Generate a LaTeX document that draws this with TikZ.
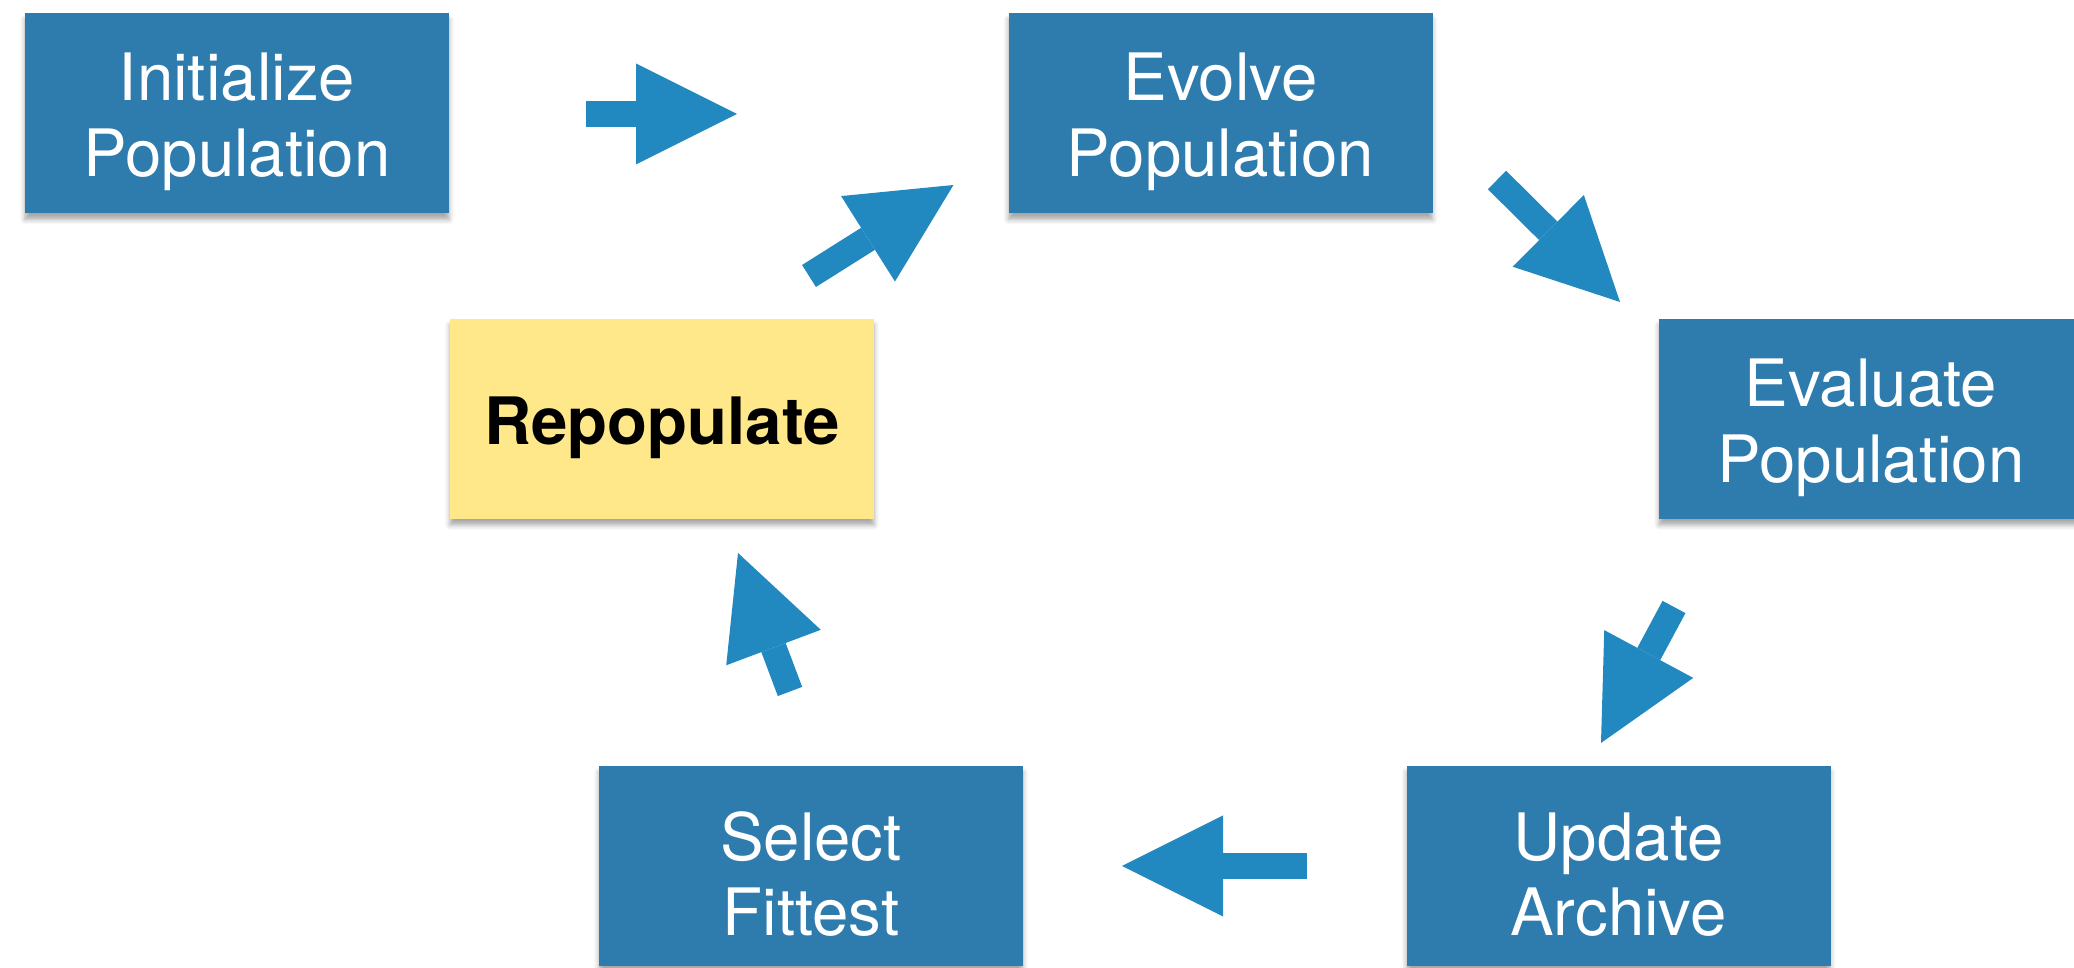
\documentclass[tikz,border=0pt]{standalone}
\usepackage{fontspec}
\setmainfont{TeX Gyre Heros}
\usepackage{tikz}
\usetikzlibrary{arrows.meta}
\usetikzlibrary{shadows.blur}
\definecolor{ColBox}{RGB}{46,123,173}
\definecolor{ColArrow}{RGB}{34,137,192}
\definecolor{ColNote}{RGB}{254,232,138}
\tikzstyle{BoxStep}=[rectangle,fill=ColBox,text=white,minimum width=4.24cm,minimum height=2cm,
inner sep=0pt,align=center,font=\fontsize{18.6}{21.6}\selectfont,text height=40.1pt,
blur shadow={shadow xshift=0pt,shadow yshift=-0.06cm,shadow blur radius=0.05cm,shadow opacity=35}]
\tikzstyle{BoxNote}=[BoxStep,fill=ColNote,text=black,font=\fontsize{18.6}{21.6}\selectfont\bfseries,
text height=18.5pt]
\tikzstyle{ArrowFlow}=[ColArrow,line width=0.26cm,-{Triangle[length=1.01cm,width=1.01cm,line width=0pt]}]

\begin{document}
\begin{tikzpicture}
        \useasboundingbox(0,0)rectangle(20.74,-9.68);
        \node[BoxStep](init)at(2.37,-1.135){Initialize\\Population};
        \node[BoxStep](evolve)at(12.205,-1.135){Evolve\\Population};
        \node[BoxStep](evaluate)at(18.71,-4.19){Evaluate\\Population};
        \node[BoxStep](update)at(16.185,-8.66){Update\\Archive};
        \node[BoxStep](select)at(8.11,-8.66){Select\\Fittest};
        \node[BoxNote](repop)at(6.62,-4.19){Repopulate};
        % free ends of the block arrows
        \coordinate(s1)at(5.86,-1.14);\coordinate(t1)at(7.37,-1.14);
        \coordinate(s2)at(8.09,-2.76);\coordinate(t2)at(9.535,-1.85);
        \coordinate(s3)at(14.97,-1.80);\coordinate(t3)at(16.20,-3.02);
        \coordinate(s4)at(16.74,-6.07);\coordinate(t4)at(16.01,-7.43);
        \coordinate(s5)at(13.07,-8.66);\coordinate(t5)at(11.22,-8.66);
        \coordinate(s6)at(7.90,-6.915);\coordinate(t6)at(7.38,-5.53);
        \draw[ArrowFlow](s1)--(t1);
        \draw[ArrowFlow](s2)--(t2);
        \draw[ArrowFlow](s3)--(t3);
        \draw[ArrowFlow](s4)--(t4);
        \draw[ArrowFlow](s5)--(t5);
        \draw[ArrowFlow](s6)--(t6);
    \end{tikzpicture}
\end{document}
